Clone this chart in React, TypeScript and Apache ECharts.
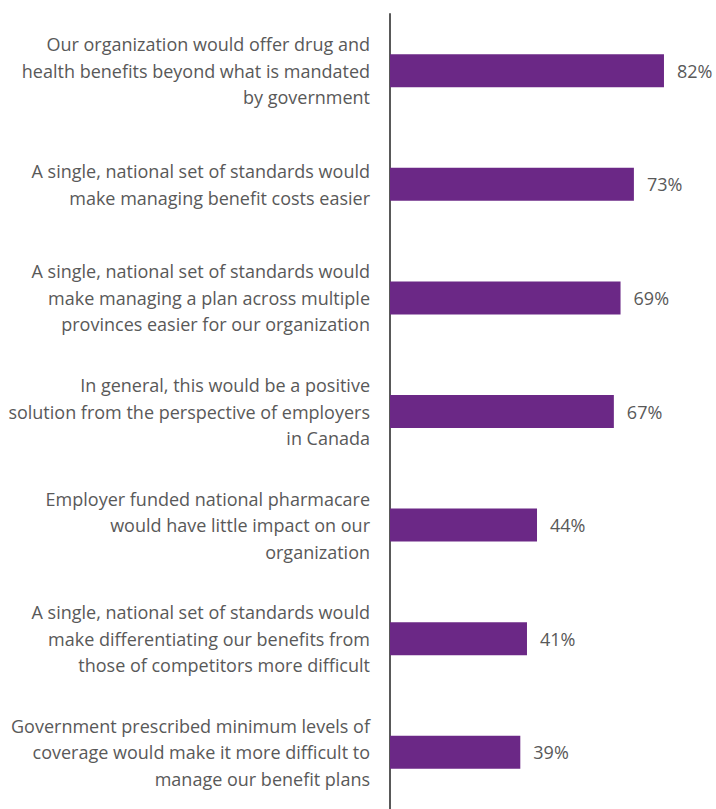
import React, { useEffect, useRef } from "react";
import * as echarts from "echarts";

const categories: string[] = [
  "Our organization would offer drug and\nhealth benefits beyond what is mandated\nby government",
  "A single, national set of standards would\nmake managing benefit costs easier",
  "A single, national set of standards would\nmake managing a plan across multiple\nprovinces easier for our organization",
  "In general, this would be a positive\nsolution from the perspective of employers\nin Canada",
  "Employer funded national pharmacare\nwould have little impact on our\norganization",
  "A single, national set of standards would\nmake differentiating our benefits from\nthose of competitors more difficult",
  "Government prescribed minimum levels of\ncoverage would make it more difficult to\nmanage our benefit plans",
];

const values: number[] = [82, 73, 69, 67, 44, 41, 39];

export default function App() {
  const ref = useRef<HTMLDivElement>(null);
  useEffect(() => {
    document.body.style.margin = "0";
    if (!ref.current) return;
    const chart = echarts.init(ref.current, null, { renderer: "svg" });
    chart.setOption({
      animation: false,
      backgroundColor: "#ffffff",
      grid: { left: 390, right: 42, top: 14, bottom: -2, containLabel: false },
      xAxis: {
        type: "value",
        min: 0,
        max: 85,
        show: false,
      },
      yAxis: {
        type: "category",
        data: categories,
        inverse: true,
        axisLine: { show: true, lineStyle: { color: "#595959", width: 2 } },
        axisTick: { show: false },
        axisLabel: {
          margin: 20,
          color: "#595959",
          fontFamily: "Open Sans",
          fontSize: 18,
          lineHeight: 26.5,
          align: "right",
        },
      },
      series: [
        {
          type: "bar",
          data: values,
          barWidth: 33,
          itemStyle: { color: "#6b2886" },
          clip: false,
          label: {
            show: true,
            position: "right",
            distance: 13,
            formatter: "{c}%",
            color: "#595959",
            fontFamily: "Open Sans",
            fontSize: 18,
          },
        },
      ],
    });
    return () => chart.dispose();
  }, []);
  return <div ref={ref} style={{ width: 716, height: 809 }} />;
}
